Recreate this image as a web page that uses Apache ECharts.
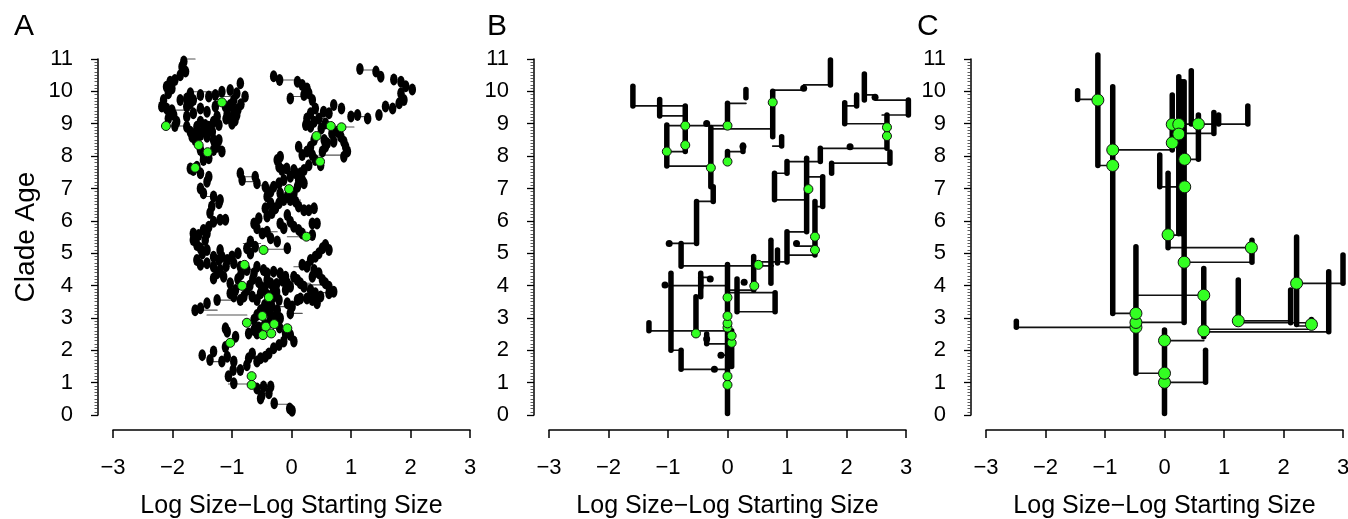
<!DOCTYPE html>
<html><head><meta charset="utf-8">
<script src="https://cdn.jsdelivr.net/npm/echarts@6/dist/echarts.min.js"></script>
<style>html,body{margin:0;padding:0;background:#fff}#c{width:1348px;height:519px}</style>
</head><body><div id="c"></div>
<script>
// ---------- DATA ----------
const panelLabels = ['A','B','C'];
const xTicks = [-3,-2,-1,0,1,2,3];
const yTicks = [0,1,2,3,4,5,6,7,8,9,10,11];
const xTitle = 'Log Size\u2212Log Starting Size';
const yTitle = 'Clade Age';

// Panel A: lineage states [x, y]
const aPoints = [
[0.01,0.13],[-0.03,0.2],[-0.29,0.36],[-0.38,0.67],[-0.52,0.51],[-0.5,0.6],[-0.35,0.88],[-0.47,0.88],[-0.58,0.82],[-0.97,0.98],[-1.06,1.2],[-0.98,1.39],[-0.86,1.39],[-0.75,1.54],[-0.72,1.75],[-0.66,1.9],[-0.97,1.65],[-1.17,1.65],[-1.37,1.7],[-1.5,1.85],[-1.31,1.96],[-1.08,1.8],[-1.11,2.1],[-0.94,2.42],[-1.08,2.57],[-1.11,2.68],
[-0.58,1.65],[-0.52,1.75],[-0.44,1.8],[-0.38,1.9],[-0.3,2.06],[-0.21,2.16],[-0.13,2.27],[0.04,2.27],[-0.1,2.52],[-0.02,2.47],
[-0.63,2.63],[-0.58,2.52],[-0.72,2.52],[-0.63,2.94],[-0.58,3.09],[-0.52,3.24],[-0.41,3.24],[-0.33,3.35],[-0.24,3.24],[-0.27,3.04],[-0.19,2.99],[-0.36,2.9],[-0.21,3.55],[-0.3,3.86],[-0.35,4.07],[-0.41,4.17],[-0.45,3.9],[-0.52,3.76],[-0.58,3.55],[-0.66,3.66],[-0.75,3.86],[-0.8,3.66],[-0.86,3.55],[-0.97,3.66],[-1.03,3.76],[-1.25,3.55],[-1.42,3.45],[-1.53,3.3],[-1.62,3.24],[-0.94,3.86],[-1.03,4.07],[-1.14,4.27],[-1.2,4.48],[-1.25,4.38],[-1.31,4.22],[-1.31,4.58],[-1.17,4.89],[-1.22,4.79],[-1.08,4.79],[-0.97,4.69],[-0.86,4.58],[-0.75,4.48],[-0.63,4.38],[-0.58,4.58],[-0.47,4.48],[-0.41,4.38],[-0.3,4.43],[-0.19,4.38],[-0.1,4.27],[-0.07,4.07],[-0.1,3.86],[-0.02,3.96],[0.04,4.27],[0.1,4.17],[0.15,4.07],[0.21,3.96],[0.32,3.86],[0.4,3.76],[0.49,3.66],[0.63,3.76],[0.71,3.81],
[-0.07,3.45],[0.01,3.35],[-0.02,3.14],[0.1,3.55],[0.15,3.6],[0.26,3.6],[0.35,3.55],[0.43,3.45],[0.35,4.27],[0.46,4.38],[0.52,4.17],[0.57,4.07],[0.63,3.96],[0.38,4.48],[0.26,4.58],[0.18,4.64],[0.32,4.79],[0.4,4.89],[0.46,5.0],[0.52,5.15],[0.57,5.25],[0.63,5.1],
[-0.45,3.4],[-0.38,3.5],[-0.3,3.65],[-0.25,3.8],[-0.4,3.7],[-0.5,3.95],[-0.55,4.1],[-0.65,4.2],[-0.7,4.0],[-0.9,4.2],[-0.85,4.35],[-0.25,4.05],[-0.15,4.15],[-0.35,3.1],[-0.45,2.8],[-0.55,2.7],[-0.2,2.7],
[-0.07,5.15],[-0.24,5.36],[-0.35,5.46],[-0.49,5.61],[-0.58,5.77],[-0.63,5.92],[-0.55,6.08],[-0.41,6.13],[-0.33,6.24],[-0.27,6.39],[-0.44,6.39],[-0.35,6.54],[-0.21,6.54],[-0.13,6.64],[-0.02,6.64],[0.07,6.59],[0.12,6.44],[0.21,6.33],[0.29,6.33],[0.38,6.39],[-0.07,6.18],[-0.02,5.97],[0.04,5.82],[0.12,5.72],[0.18,5.61],[0.35,5.56],[0.43,5.92],[0.35,5.92],[-0.19,5.92],[-0.13,5.77],[-0.41,5.66],[-0.69,5.36],[-0.75,5.15],[-0.69,4.99],[-0.61,5.2],
[-0.41,6.75],[-0.35,6.9],[-0.3,7.05],[-0.21,7.16],[-0.13,7.26],[-0.02,7.36],[0.07,7.47],[0.12,7.26],[0.21,7.16],[0.1,7.05],[0.04,6.85],[-0.07,6.75],[-0.19,6.85],
[-0.86,7.47],[-0.83,7.26],[-0.61,7.36],[-0.58,7.16],[-0.44,7.05],
[-0.24,7.88],[-0.19,7.98],[-0.21,7.67],[-0.16,7.57],[-0.08,7.62],
[-1.65,5.41],[-1.59,5.25],[-1.53,5.15],[-1.5,4.99],[-1.59,4.79],[-1.53,4.64],[-1.42,4.69],[-1.31,4.89],[-1.42,5.1],[-1.45,5.41],[-1.42,5.61],[-1.39,5.82],[-1.48,5.72],[-1.65,5.61],[-1.56,5.56],[-1.31,5.97],[-1.2,6.03],[-1.11,6.03],[-1.37,6.24],[-1.34,6.44],[-1.22,6.54],[-1.2,6.64],[-1.31,6.75],[-1.48,6.85],[-1.53,7.0],[-1.42,7.21],[-1.39,7.36],[-1.53,7.47],[-1.59,7.67],[-1.7,7.62],
[-1.1,4.6],[-1.0,4.9],[-0.9,5.0],[-1.2,5.1],
[-1.62,11.07],[-1.76,11.02],[-1.81,10.92],[-1.84,10.76],[-1.78,10.61],[-1.87,10.5],[-1.96,10.35],[-2.04,10.3],[-2.1,10.14],[-2.01,10.09],[-2.07,9.94],[-2.15,9.73],[-2.18,9.53],[-2.1,9.47],[-2.01,9.42],[-1.98,9.27],[-2.07,9.16],[-1.93,9.06],[-1.96,8.93],[-1.76,8.91],[-1.7,8.75],[-1.67,8.6],[-1.62,8.5],[-1.53,8.65],[-1.48,8.81],[-1.45,8.96],[-1.39,8.91],[-1.33,8.75],[-1.31,9.06],[-1.25,9.22],[-1.22,8.96],[-1.31,8.5],[-1.25,8.29],[-1.17,8.14],[-1.39,7.93],[-1.48,7.88],[-1.65,7.57],
[-1.87,9.73],[-1.76,9.78],[-1.7,9.94],[-1.53,9.89],[-1.39,9.84],[-1.28,9.89],[-1.17,9.99],[-1.03,10.04],[-0.86,10.25],[-0.92,9.94],[-0.78,9.84],[-0.97,9.73],[-1.03,9.58],[-0.97,9.42],[-0.92,9.27],[-1.03,9.16],[-1.08,9.32],[-1.11,9.53],[-1.28,9.53],[-1.42,9.37],[-1.53,9.47],[-1.65,9.32],[-1.76,9.22],[-1.76,9.53],[-1.7,9.63],[-1.65,9.73],
[-1.53,9.06],[-1.59,8.91],[-1.62,8.7],[-1.42,8.6],[-1.31,8.19],[-1.22,8.5],[-1.53,8.19],[-1.48,8.03],
[-1.0,9.0],[-0.95,9.1],[-1.1,9.15],[-0.9,9.45],[-0.85,9.6],
[1.15,10.69],[1.42,10.61],[1.5,10.45],[1.72,10.37],[1.84,10.3],[1.92,10.16],[2.03,10.06],[1.84,9.94],[1.89,9.73],[1.81,9.63],[1.7,9.47],[1.58,9.53],[1.47,9.27],[1.28,9.16],[1.11,9.27],[1.0,9.22],[0.84,9.47],[0.71,9.58],[0.63,9.32],[0.54,9.37],[0.4,9.47],[0.32,9.32],[0.26,9.16],[0.24,8.96],[0.32,8.91],[0.38,9.06],[0.46,9.16],[0.57,9.01],[0.77,8.75],[0.83,8.6],[0.88,8.44],[0.91,8.29],[0.94,8.14],[0.88,7.98],
[-0.3,10.47],[-0.2,10.35],[0.1,10.3],[0.18,10.2],[0.26,10.09],[0.29,9.94],[0.35,9.73],[0.21,9.89],[-0.02,9.78],
[0.38,8.5],[0.32,8.29],[0.26,8.14],[0.18,8.03],[0.12,8.29],[0.35,8.03],[0.4,7.88],[0.29,7.72],[0.21,7.57],[0.15,7.47],[0.18,7.26],[0.04,7.57],[0.52,8.14],[0.57,8.29],[0.6,8.4],[0.71,8.44],[0.49,7.72],[0.55,8.5],[0.68,8.7],[0.5,8.85]
];
const aGreen = [[-2.11,8.93],[-1.17,9.66],[-1.56,8.34],[-1.41,8.12],[-1.62,7.64],[0.66,8.93],[0.84,8.89],[0.42,8.62],[0.48,7.83],[-0.04,6.98],[0.25,5.51],[-0.47,5.1],[-0.79,4.64],[-0.83,3.99],[-0.38,3.64],[-0.49,3.06],[-0.75,2.85],[-0.43,2.73],[-0.29,2.81],[-0.48,2.47],[-0.34,2.52],[-0.07,2.68],[-1.03,2.23],[-0.67,1.2],[-0.67,0.93]];
// Panel A branch links: [y, x0, x1]
const aLinks = [[0.33,-0.29,-0.03],[0.96,-1.06,-0.67],[1.65,-1.37,-1.17],[2.27,-1.03,-0.94],[3.09,-1.42,-0.75],[3.24,-1.62,-1.25],[3.35,-0.33,-0.02],[4.07,0.04,0.32],[4.02,0.18,0.6],[3.78,0.32,0.71],[4.58,0.04,0.32],[5.12,-0.47,-0.07],[5.3,-0.81,-0.52],[5.51,-0.07,0.25],[4.89,-1.31,-1.08],[4.5,-0.86,-0.47],[5.92,0.35,0.46],[6.39,-0.44,-0.21],[6.64,-0.02,0.15],[7.21,-0.83,-0.58],[7.36,-0.86,-0.61],[7.1,-0.58,-0.24],[6.75,-1.48,-1.31],[8.03,0.46,0.94],[8.9,0.66,1.05],[9.22,1.0,1.28],[9.84,-0.02,0.29],[10.35,-0.2,0.1],[10.66,1.15,1.42],[9.42,-2.01,-1.53],[9.78,-1.87,-1.53],[9.99,-1.7,-1.17],[9.84,-1.39,-0.92],[8.93,-2.11,-1.76],[8.14,-1.41,-1.17],[7.55,-1.62,-1.48],[11.0,-1.76,-1.62],[3.14,-0.07,0.18],[2.85,-0.75,-0.43],[3.55,-1.25,-0.97],[5.66,-0.41,-0.24],[9.16,0.26,0.57],[8.5,0.55,0.77]];

// Panel B: lineage spans [x, y0, y1], branch links [y, x0, x1]
const bSpans = [[0,0.05,4.65],[-0.78,1.41,2.0],[-0.95,2.0,4.38],[-1.32,2.6,2.85],[-0.53,2.52,3.65],[-0.45,3.65,4.38],[-0.35,2.2,2.5],[0.07,1.5,2.6],[-0.78,4.6,5.3],[-0.52,5.3,6.6],[-0.24,6.6,7.05],[-0.28,7.05,8.88],[0.76,8.6,10.0],[1.73,10.2,10.97],[-0.71,8.14,9.55],[-1.59,9.55,10.16],[-1.14,9.24,9.75],[-1.02,7.69,8.96],[0,8.9,9.63],[0.31,9.8,10.06],[0,7.83,8.14],[0.26,8.14,8.34],[0.91,8.31,8.6],[0.44,3.86,4.9],[0.8,3.19,3.78],[0.16,3.19,4.2],[0.73,4.07,5.4],[0.84,4.7,5.1],[1.0,4.73,5.66],[1.33,5.66,7.93],[1.47,4.94,6.6],[1.6,6.44,7.36],[0.79,6.65,7.47],[1.0,7.47,7.83],[1.56,7.83,8.24],[1.75,7.47,7.78],[2.73,7.78,8.13],[2.68,8.24,9.27],[1.97,9.0,9.65],[2.17,9.55,9.89],[2.3,9.73,10.54],[3.04,9.27,9.73],[-0.45,3.95,4.25]];
const bLinks = [[1.41,-0.78,0],[2.0,-0.95,-0.78],[2.6,-1.32,0],[2.2,-0.35,0.07],[1.85,-0.11,0],[4.0,-1.05,0],[4.61,-0.78,0.77],[5.3,-0.98,-0.52],[6.6,-0.52,-0.24],[7.05,-0.28,-0.24],[8.84,-0.28,0.76],[10.04,0.76,1.28],[10.2,1.28,1.73],[8.94,-1.02,0],[9.55,-1.59,-0.71],[9.24,-1.14,-0.71],[8.14,-1.02,-0.71],[7.69,-1.02,-0.28],[9.63,0,0.31],[8.14,0,0.26],[8.31,0.76,0.91],[3.86,0,0.44],[3.78,0,0.8],[3.19,0.16,0.8],[4.73,0.44,1.0],[5.66,1.0,1.33],[5.22,1.16,1.47],[4.94,1.0,1.47],[6.44,1.47,1.6],[6.65,0.79,1.33],[7.47,0.79,1.0],[7.83,1.0,1.56],[7.36,1.33,1.6],[8.24,1.56,2.68],[7.78,1.75,2.73],[9.0,1.97,2.68],[9.55,1.97,2.17],[9.89,2.3,2.48],[9.73,2.48,3.04],[9.27,2.6,3.04],[4.25,-0.45,-0.29]];
const bDots = [[-0.22,1.41],[-0.11,1.85],[-0.98,5.3],[-1.05,4.02],[-0.29,4.2],[-0.35,9.01],[1.28,10.1],[2.06,8.29],[2.48,9.82],[0.26,8.3],[1.16,5.3],[0.28,4.1],[-0.35,2.35]];
const bGreen = [[0,0.93],[0,1.2],[0.07,2.23],[0.07,2.45],[0,2.7],[0,2.83],[0,3.06],[0,3.63],[-0.53,2.52],[0.45,3.99],[0.52,4.64],[1.47,5.1],[1.47,5.51],[1.36,6.98],[-0.28,7.64],[0,7.83],[-1.02,8.14],[-0.71,8.34],[-0.71,8.94],[0,8.94],[0.76,9.66],[2.68,8.62],[2.68,8.89]];

// Panel C
const cSpans = [[0,0.05,2.63],[0.69,1.01,2.0],[-0.48,1.29,5.2],[-2.49,2.71,2.9],[0.33,2.86,10.3],[1.47,4.72,5.4],[0.06,5.17,7.47],[-0.87,3.14,10.14],[-1.12,7.71,11.12],[-1.46,9.75,10.02],[0.13,8.19,9.89],[0.66,2.42,4.53],[2.76,2.57,4.43],[1.24,2.91,4.17],[2.12,2.85,3.86],[2.22,2.8,5.5],[3.0,4.07,4.94],[0.24,5.6,10.45],[0.29,5.6,10.3],[0.45,8.99,10.64],[1.4,8.99,9.55],[0.83,8.7,9.35],[0.91,8.99,9.27],[0.57,7.9,9.27],[-0.08,7.05,8.03],[2.47,2.75,2.95]];
const cLinks = [[1.01,0,0.69],[1.29,-0.48,0],[2.71,-2.49,-0.48],[2.86,-0.48,0.33],[4.72,0.33,1.47],[5.17,0.06,1.47],[5.56,0.06,0.33],[3.14,-0.87,-0.48],[7.71,-1.12,-0.87],[9.75,-1.46,-1.12],[8.19,-0.87,0.13],[3.7,-0.48,0.66],[2.3,0,0.66],[2.57,0.66,2.76],[2.65,0.66,2.47],[2.91,1.24,2.12],[2.85,1.24,2.47],[4.07,2.22,3.0],[2.75,2.22,2.47],[8.99,0.24,1.4],[8.7,0.24,0.83],[7.9,0.33,0.57],[7.05,-0.08,0.33]];
const cGreen = [[0,1.01],[0,1.29],[0,2.3],[-0.48,2.71],[-0.48,2.86],[-0.48,3.14],[0.33,4.72],[1.46,5.17],[0.06,5.57],[-0.87,7.71],[-0.87,8.19],[-1.12,9.73],[0.13,8.41],[0.13,8.98],[0.24,8.98],[0.24,8.68],[0.57,8.99],[0.34,7.9],[0.34,7.05],[0.66,3.7],[0.66,2.6],[2.47,2.8],[1.24,2.91],[2.22,4.07]];

// ---------- CHART ----------
const FONT = '"Liberation Sans", Arial, Helvetica, sans-serif';
const chart = echarts.init(document.getElementById('c'), null, {renderer:'canvas'});
const gridLefts = [113, 549, 986];
const grids = gridLefts.map(l => ({left:l, width:357, top:59, height:356, containLabel:false, outerBoundsMode:'none'}));
const minus = v => String(v).replace('-', '\u2212');

const xAxes = grids.map((g,i) => ({
  gridIndex:i, type:'value', min:-3, max:3, interval:1, offset:15,
  splitLine:{show:false},
  axisLine:{show:true, onZero:false, lineStyle:{color:'#000', width:1.5}},
  axisTick:{show:true, length:8, lineStyle:{color:'#000', width:1.5}},
  axisLabel:{formatter:minus, fontSize:22, color:'#000', fontFamily:FONT, margin:27},
  name:xTitle, nameLocation:'middle', nameGap:64,
  nameTextStyle:{fontSize:25, color:'#000', fontFamily:FONT}
}));
const yAxes = grids.map((g,i) => ({
  gridIndex:i, type:'value', min:0, max:11, interval:1, offset:15,
  splitLine:{show:false},
  axisLine:{show:true, onZero:false, lineStyle:{color:'#000', width:1.5}},
  axisTick:{show:true, length:7, lineStyle:{color:'#000', width:1.3}},
  minorTick:{show:true, splitNumber:10, length:3.5, lineStyle:{color:'#333', width:0.8}},
  axisLabel:{fontSize:22, color:'#000', fontFamily:FONT, margin:25},
  name: i===0 ? yTitle : '', nameLocation:'middle', nameGap:58, nameRotate:90,
  nameTextStyle:{fontSize:28, color:'#000', fontFamily:FONT}
}));

function segSeries(idx, rows, horizontal, width, color, z){
  const data = rows.map(r => horizontal ? [r[1], r[0], r[2], r[0]] : [r[0], r[1], r[0], r[2]]);
  return {
    type:'custom', xAxisIndex:idx, yAxisIndex:idx, z:z, clip:false,
    encode:{x:[0,2], y:[1,3]},
    data:data,
    renderItem:(params, api) => {
      const p0 = api.coord([api.value(0), api.value(1)]);
      const p1 = api.coord([api.value(2), api.value(3)]);
      return {type:'line', shape:{x1:p0[0], y1:p0[1], x2:p1[0], y2:p1[1]},
        style:{stroke:color, lineWidth:width, lineCap:'round'}};
    },
    silent:true
  };
}
function scatter(idx, pts, size, color, border, z, symbol){
  return {type:'scatter', xAxisIndex:idx, yAxisIndex:idx, data:pts, z:z,
    symbol: symbol || 'circle', symbolSize:size, silent:true,
    itemStyle:{color:color, borderColor:border ? '#111' : color, borderWidth:border ? 1 : 0, opacity:1}};
}
const ellipse = 'path://M0 5A5 5 0 1 0 10 5A5 5 0 1 0 0 5Z';

const series = [
  segSeries(0, aLinks, true, 1.1, '#555', 2),
  scatter(0, aPoints, [7.5,12], '#000', false, 3, ellipse),
  scatter(0, aGreen, 9, '#33ff22', true, 4),
  segSeries(1, bLinks, true, 1.7, '#111', 2),
  segSeries(1, bSpans, false, 5.5, '#000', 3),
  scatter(1, bDots, 7, '#000', false, 4),
  scatter(1, bGreen, 9, '#33ff22', true, 5),
  segSeries(2, cLinks, true, 1.7, '#111', 2),
  segSeries(2, cSpans, false, 5.5, '#000', 3),
  scatter(2, cGreen, 12, '#33ff22', true, 5)
];

const labelX = [14, 487, 917];
chart.setOption({
  animation:false,
  backgroundColor:'#fff',
  grid:grids, xAxis:xAxes, yAxis:yAxes, series:series,
  graphic: panelLabels.map((t,i) => ({type:'text', left:labelX[i], top:12,
    style:{text:t, fontSize:30, fill:'#000', fontFamily:FONT}}))
});
</script></body></html>
